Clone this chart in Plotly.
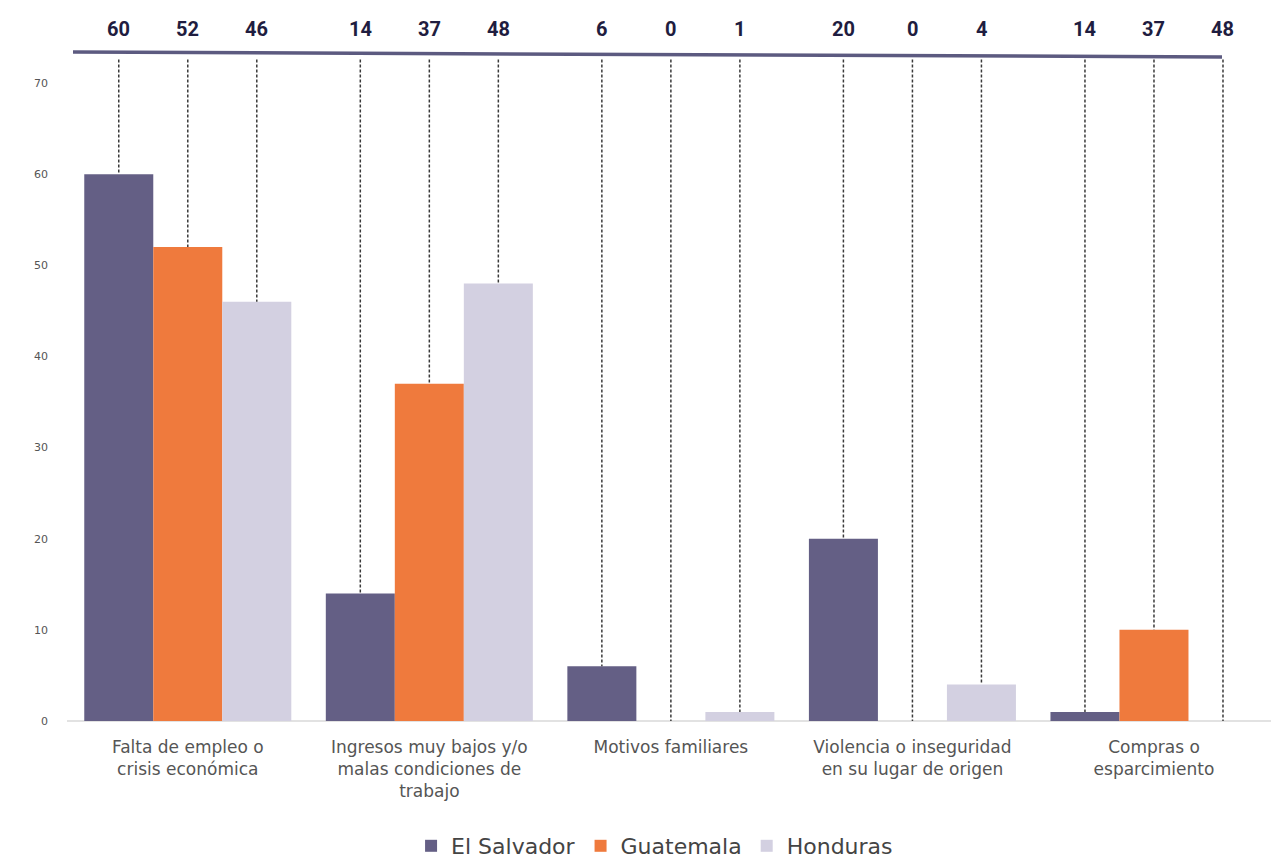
import plotly.graph_objects as go

categories = [
    "Falta de empleo o<br>crisis económica",
    "Ingresos muy bajos y/o<br>malas condiciones de<br>trabajo",
    "Motivos familiares",
    "Violencia o inseguridad<br>en su lugar de origen",
    "Compras o<br>esparcimiento",
]
series_names = ["El Salvador", "Guatemala", "Honduras"]
el_salvador = [60, 14, 6, 20, 1]
guatemala = [52, 37, 0, 0, 10]
honduras = [46, 48, 1, 4, 0]
# Labels printed above the chart (as shown in the original)
top_labels_es = ["60", "14", "6", "20", "14"]
top_labels_gt = ["52", "37", "0", "0", "37"]
top_labels_hn = ["46", "48", "1", "4", "48"]
y_ticks = [0, 10, 20, 30, 40, 50, 60, 70]

colors = ["#645f85", "#ef7a3d", "#d3d0e1"]
values = [el_salvador, guatemala, honduras]
top_labels = [top_labels_es, top_labels_gt, top_labels_hn]

W, H = 1271, 858
L, R, T, B = 67, 0, 53, 137
plot_h = H - T - B
BW = 0.2857
YMAX = 73.3
DASH_TOP = 72.6

fig = go.Figure()

# dashed leader lines
lx, ly = [], []
for j, vals in enumerate(values):
    for i, v in enumerate(vals):
        x = i + (j - 1) * BW
        lx += [x, x, None]
        ly += [DASH_TOP, v, None]
fig.add_trace(go.Scatter(x=lx, y=ly, mode="lines",
                         line=dict(color="#3a3a3a", width=1.5, dash="3px,2px"),
                         showlegend=False, hoverinfo="skip"))

for j, (name, vals) in enumerate(zip(series_names, values)):
    xs = [i + (j - 1) * BW for i in range(len(categories))]
    fig.add_trace(go.Bar(x=xs, y=vals, width=BW, name=name,
                         marker=dict(color=colors[j], line=dict(width=0))))

ann = []
for j, labs in enumerate(top_labels):
    for i, t in enumerate(labs):
        ann.append(dict(x=i + (j - 1) * BW, xref="x", y=1 + (T - 29) / plot_h, yref="paper",
                        text="<b>" + t + "</b>", showarrow=False,
                        font=dict(family="Roboto", size=20, color="#1f1d40"),
                        xanchor="center", yanchor="middle"))

fig.update_layout(
    width=W, height=H,
    margin=dict(l=L, r=R, t=T, b=B, autoexpand=False),
    paper_bgcolor="white", plot_bgcolor="white",
    barmode="overlay",
    annotations=ann,
    shapes=[dict(type="line", xref="paper", yref="paper",
                 x0=(73 - L) / (W - L - R), x1=(1222 - L) / (W - L - R),
                 y0=1 + 1 / plot_h, y1=1 - 4 / plot_h,
                 line=dict(color="#5c5a80", width=3.5))],
    legend=dict(orientation="h", x=0.515, xanchor="center", xref="container",
                y=1 - 846 / H, yanchor="middle", yref="container",
                font=dict(family="DejaVu Sans", size=22, color="#444444"),
                itemwidth=30, traceorder="normal"),
    xaxis=dict(range=[-0.5, (1271 - 188) / 241.5], automargin=False,
               tickvals=list(range(len(categories))), ticktext=categories,
               showgrid=False, zeroline=False, showline=False, ticks="",
               tickfont=dict(family="DejaVu Sans", size=17, color="#555555"),
               ticklabelstandoff=14),
    yaxis=dict(range=[0, YMAX], tickvals=y_ticks, showgrid=False, automargin=False,
               zeroline=True, zerolinecolor="#e2e2e2", zerolinewidth=2,
               showline=False, ticks="",
               tickfont=dict(family="DejaVu Sans", size=11, color="#555555"),
               ticklabelstandoff=18),
)

fig.write_html("out.html")
